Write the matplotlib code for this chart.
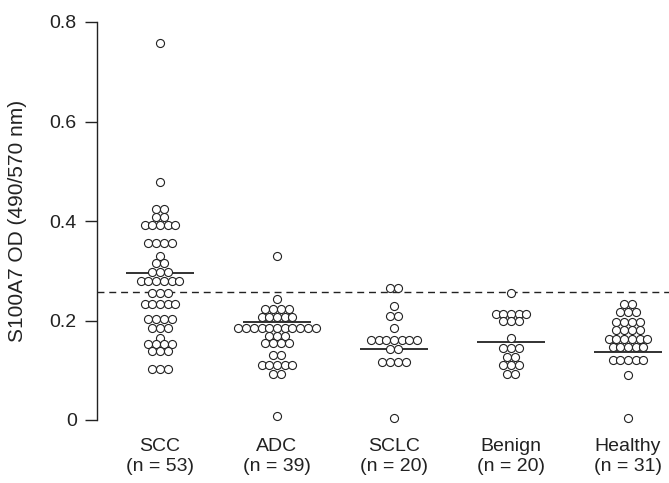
import numpy as np
import matplotlib
matplotlib.use("Agg")
import matplotlib.pyplot as plt

plt.rcParams["font.family"] = ["Liberation Sans", "DejaVu Sans"]

groups = ["SCC", "ADC", "SCLC", "Benign", "Healthy"]
n_labels = ["(n = 53)", "(n = 39)", "(n = 20)", "(n = 20)", "(n = 31)"]

scc = [0.758, 0.478,
       0.424, 0.424, 0.409, 0.409,
       0.392, 0.392, 0.392, 0.392, 0.392,
       0.356, 0.356, 0.356, 0.356,
       0.330, 0.315, 0.315,
       0.298, 0.298, 0.298,
       0.280, 0.280, 0.280, 0.280, 0.280, 0.280,
       0.255, 0.255, 0.255,
       0.233, 0.233, 0.233, 0.233, 0.233,
       0.203, 0.203, 0.203, 0.203,
       0.184, 0.184, 0.184,
       0.165,
       0.152, 0.152, 0.152, 0.152,
       0.139, 0.139, 0.139,
       0.103, 0.103, 0.103]
adc = [0.330, 0.244,
       0.223, 0.223, 0.223, 0.223,
       0.207, 0.207, 0.207, 0.207, 0.207,
       0.184, 0.184, 0.184, 0.184, 0.184, 0.184, 0.184, 0.184, 0.184, 0.184, 0.184,
       0.168, 0.168, 0.168,
       0.154, 0.154, 0.154, 0.154,
       0.131, 0.131,
       0.111, 0.111, 0.111, 0.111, 0.111,
       0.093, 0.093,
       0.008]
sclc = [0.266, 0.266, 0.229, 0.209, 0.209, 0.184,
        0.161, 0.161, 0.161, 0.161, 0.161, 0.161, 0.161,
        0.142, 0.142,
        0.117, 0.117, 0.117, 0.117,
        0.005]
benign = [0.255,
          0.214, 0.214, 0.214, 0.214, 0.214,
          0.199, 0.199, 0.199,
          0.164,
          0.144, 0.144, 0.144,
          0.126, 0.126,
          0.110, 0.110, 0.110,
          0.093, 0.093]
healthy = [0.234, 0.234,
           0.218, 0.218, 0.218,
           0.196, 0.196, 0.196, 0.196,
           0.181, 0.181, 0.181, 0.181,
           0.162, 0.162, 0.162, 0.162, 0.162, 0.162,
           0.146, 0.146, 0.146, 0.146, 0.146,
           0.121, 0.121, 0.121, 0.121, 0.121,
           0.090, 0.005]
means = [0.296, 0.197, 0.142, 0.156, 0.137]
cutoff = 0.258

data = [scc, adc, sclc, benign, healthy]

fig = plt.figure(figsize=(6.69, 4.83), dpi=100)
ax = fig.add_axes([97 / 669, 63 / 483, 572 / 669, 398 / 483])

step = 0.066  # horizontal spacing between touching dots
for i, vals in enumerate(data):
    vals = np.array(vals)
    xs = np.zeros_like(vals)
    for v in np.unique(vals):
        idx = np.where(vals == v)[0]
        k = len(idx)
        xs[idx] = i + (np.arange(k) - (k - 1) / 2) * step
    ax.plot(xs, vals, "o", ms=5.8, mfc="white", mec="#222222", mew=0.8,
            clip_on=False, zorder=3)
    ax.plot([i - 0.29, i + 0.29], [means[i], means[i]], color="#222222",
            lw=1.3, zorder=2, solid_capstyle="butt")

ax.axhline(cutoff, color="#222222", lw=1.0, ls=(0, (5, 3.5)), zorder=1)

ax.set_xlim(-0.538, 4.35)
ax.set_ylim(0, 0.8)
ax.set_yticks([0, 0.2, 0.4, 0.6, 0.8])
ax.set_yticklabels(["0", "0.2", "0.4", "0.6", "0.8"], fontsize=14)
ax.tick_params(axis="y", length=8.5, width=1.0, pad=6, colors="#222222")
for t, c in zip(ax.yaxis.get_major_ticks(), ["#222222", "#888888", "#222222", "#888888", "#222222"]):
    t.tick1line.set_color(c)
ax.set_xticks(range(len(groups)))
ax.set_xticklabels([g + "\n" + n for g, n in zip(groups, n_labels)],
                   fontsize=14, linespacing=1.2)
ax.tick_params(axis="x", length=0, pad=13, colors="#222222")

for s in ["top", "right", "bottom"]:
    ax.spines[s].set_visible(False)
ax.spines["left"].set_color("#222222")
ax.spines["left"].set_linewidth(1.0)

ax.set_ylabel("S100A7 OD (490/570 nm)", fontsize=15, color="#222222",
              labelpad=16)

fig.savefig("out.png", dpi=100)
